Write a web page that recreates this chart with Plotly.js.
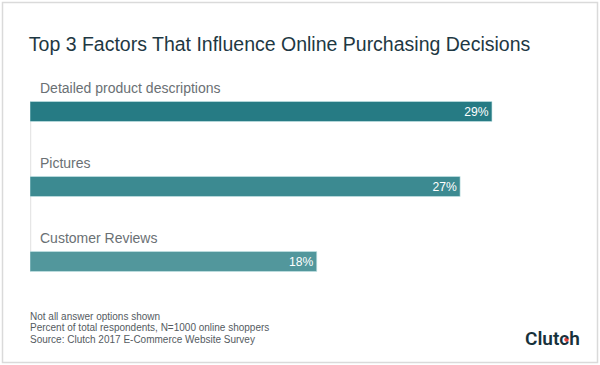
<!DOCTYPE html>
<html>
<head>
<meta charset="utf-8">
<script src="https://cdn.plot.ly/plotly-3.0.1.min.js"></script>
<style>html,body{margin:0;padding:0;background:#fff;}#chart{width:600px;height:365px;}</style>
</head>
<body>
<div id="chart"></div>
<script>
const categories = ["Detailed product descriptions", "Pictures", "Customer Reviews"];
const values = [29, 27, 18];
const valueLabels = ["29%", "27%", "18%"];
const barColors = ["#267b84", "#3c8a91", "#52979c"];
const titleText = "Top 3 Factors That Influence Online Purchasing Decisions";
const footnotes = ["Not all answer options shown", "Percent of total respondents, N=1000 online shoppers", "Source: Clutch 2017 E-Commerce Website Survey"];

const FONT = "Liberation Sans, Arial, Helvetica, sans-serif";
const W = 600, H = 365, ML = 30, MR = 40, MT = 74, MB = 66;
const PW = W - ML - MR, PH = H - MT - MB;
const px2x = p => (p - ML) / PW;
const py2y = p => (H - MB - p) / PH;

const trace = {
  type: "bar",
  orientation: "h",
  y: categories,
  x: values,
  text: valueLabels,
  textposition: "inside",
  insidetextanchor: "end",
  textfont: {color: "#ffffff", size: 13, family: FONT},
  marker: {color: barColors, line: {color: "rgba(200,230,232,0.6)", width: 1}},
  width: 0.267,
  hoverinfo: "skip",
  cliponaxis: false
};

const annotations = categories.map(c => ({
  xref: "paper", yref: "y", x: 0, y: c, xanchor: "left", yanchor: "middle",
  xshift: 8, yshift: 24,
  text: c, showarrow: false,
  font: {family: FONT, size: 14, color: "#6a7074"}
}));
footnotes.forEach((t, i) => {
  annotations.push({
    xref: "paper", yref: "paper", x: px2x(28), y: py2y([316, 327.5, 339][i]),
    xanchor: "left", yanchor: "middle", text: t, showarrow: false,
    font: {family: FONT, size: 10, color: "#555b5f"}
  });
});
annotations.push({
  xref: "paper", yref: "paper", x: px2x(582), y: py2y(338),
  xanchor: "right", yanchor: "middle", text: "Clutch", showarrow: false,
  font: {family: "Roboto, " + FONT, size: 19, color: "#17313b", weight: 600}
});

const shapes = [
  {type: "rect", xref: "paper", yref: "paper", x0: px2x(2.5), x1: px2x(597.5), y0: py2y(2.5), y1: py2y(362.5),
   line: {color: "#dadada", width: 1.5}, fillcolor: "rgba(0,0,0,0)", layer: "below"},
  {type: "line", xref: "x", yref: "y", x0: 0, x1: 0, y0: -0.133, y1: 2.133,
   line: {color: "#e6e6e6", width: 2.5}, layer: "below"},
  {type: "circle", xref: "paper", yref: "paper", xsizemode: "pixel", ysizemode: "pixel",
   xanchor: px2x(566.5), yanchor: py2y(339.5), x0: -2.2, x1: 2.2, y0: -2.2, y1: 2.2,
   fillcolor: "#e8413a", line: {width: 0}, layer: "above"}
];

const layout = {
  width: W, height: H,
  margin: {l: ML, r: MR, t: MT, b: MB, pad: 0},
  paper_bgcolor: "#ffffff", plot_bgcolor: "#ffffff",
  showlegend: false,
  title: {text: titleText, x: ML / W - 0.002, xanchor: "left", xref: "container",
          y: 1 - 44 / H, yanchor: "middle", yref: "container",
          font: {family: FONT, size: 19.5, color: "#1e3843"}},
  xaxis: {range: [0, PW / 15.93], visible: false, fixedrange: true},
  yaxis: {range: [2.5, -0.5], visible: false, fixedrange: true, type: "category"},
  annotations: annotations,
  shapes: shapes,
  bargap: 0
};

Plotly.newPlot("chart", [trace], layout, {displayModeBar: false, staticPlot: true});
</script>
</body>
</html>
